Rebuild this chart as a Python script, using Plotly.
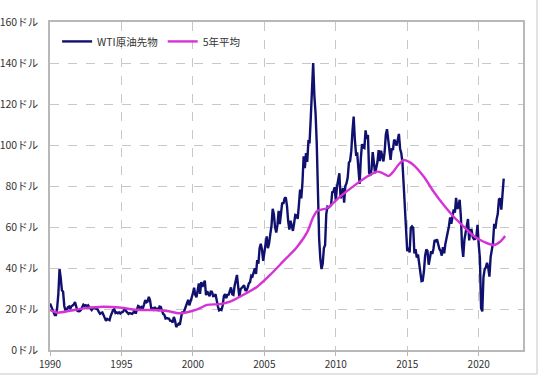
import numpy as np
import plotly.graph_objects as go

# WTI crude oil futures, monthly (Jan 1990 - Oct 2021), USD/bbl
start_year = 1990
wti = [
    # 1990
    22.7, 21.5, 20.3, 18.4, 17.1, 17.1, 20.6, 27.3, 39.5, 35.2, 29.1, 28.4,
    # 1991
    21.5, 19.2, 19.6, 20.8, 21.2, 20.0, 21.4, 21.7, 22.2, 23.4, 21.6, 19.1,
    # 1992
    18.9, 19.0, 19.6, 20.8, 22.1, 21.6, 21.9, 21.3, 21.8, 20.9, 20.1, 19.5,
    # 1993
    20.3, 20.5, 20.3, 20.2, 19.8, 18.6, 17.7, 18.1, 18.3, 17.0, 15.1, 14.2,
    # 1994
    15.2, 14.6, 14.5, 16.7, 18.2, 19.5, 19.9, 18.0, 18.3, 17.9, 18.4, 17.8,
    # 1995
    18.4, 18.5, 19.2, 20.4, 18.9, 17.9, 17.6, 18.0, 17.7, 17.6, 18.2, 19.6,
    # 1996
    17.7, 19.5, 21.5, 21.2, 19.8, 20.9, 20.4, 22.3, 24.4, 23.3, 23.7, 25.9,
    # 1997
    24.2, 20.3, 20.4, 19.8, 20.9, 19.8, 20.1, 19.6, 21.2, 21.0, 19.1, 17.6,
    # 1998
    17.2, 15.4, 15.6, 15.2, 15.2, 14.2, 14.2, 13.4, 16.1, 14.4, 11.2, 12.1,
    # 1999
    12.8, 12.3, 16.8, 18.7, 17.8, 19.3, 20.5, 22.1, 24.5, 21.8, 24.6, 25.6,
    # 2000
    27.6, 30.4, 26.9, 25.7, 29.0, 32.5, 27.4, 33.1, 30.8, 32.7, 33.8, 26.8,
    # 2001
    28.7, 27.4, 26.3, 28.5, 28.4, 26.3, 26.4, 27.2, 23.4, 21.2, 19.4, 19.8,
    # 2002
    19.5, 21.7, 26.3, 27.3, 25.3, 26.9, 27.0, 28.9, 30.5, 27.2, 26.9, 31.2,
    # 2003
    33.5, 36.6, 31.0, 25.8, 29.6, 30.2, 30.5, 31.6, 29.2, 29.1, 30.4, 32.5,
    # 2004
    33.1, 36.2, 35.8, 37.4, 39.9, 37.1, 43.8, 42.1, 49.6, 51.8, 49.1, 43.5,
    # 2005
    48.2, 51.8, 55.4, 49.7, 52.0, 56.5, 60.6, 68.9, 66.2, 59.8, 57.3, 61.0,
    # 2006
    67.9, 61.4, 66.6, 71.9, 71.3, 73.9, 74.4, 70.3, 62.9, 58.7, 63.1, 61.1,
    # 2007
    58.1, 61.8, 65.9, 65.7, 64.0, 70.7, 78.2, 74.0, 81.7, 94.5, 88.7, 96.0,
    # 2008
    91.8, 101.8, 101.6, 113.5, 127.4, 140.0, 124.1, 115.5, 100.6, 67.8, 54.4, 44.6,
    # 2009
    39.5, 42.0, 49.7, 51.1, 66.3, 69.9, 69.5, 70.0, 70.6, 77.0, 77.3, 79.4,
    # 2010
    72.9, 79.7, 83.8, 86.2, 74.0, 75.6, 79.0, 71.9, 80.0, 81.4, 84.1, 91.4,
    # 2011
    92.2, 97.0, 106.7, 113.9, 102.7, 95.4, 95.7, 88.8, 81.0, 93.2, 100.4, 98.8,
    # 2012
    98.5, 107.1, 103.0, 104.9, 86.5, 85.0, 88.1, 96.5, 92.2, 86.2, 88.9, 91.8,
    # 2013
    97.5, 92.1, 97.2, 93.5, 92.0, 96.6, 105.0, 107.7, 102.3, 96.4, 92.7, 98.4,
    # 2014
    97.5, 102.6, 101.6, 99.7, 102.7, 105.4, 98.2, 96.0, 91.2, 80.5, 66.2, 53.3,
    # 2015
    48.2, 49.8, 47.6, 59.6, 60.3, 59.5, 47.1, 49.2, 45.1, 46.6, 41.7, 37.0,
    # 2016
    33.6, 33.8, 38.3, 45.9, 49.1, 48.3, 41.6, 44.7, 48.2, 46.9, 49.4, 53.7,
    # 2017
    52.8, 54.0, 50.6, 49.3, 48.3, 46.0, 50.2, 47.2, 51.7, 54.4, 57.4, 60.4,
    # 2018
    64.7, 61.6, 64.9, 68.6, 67.0, 74.2, 68.8, 69.8, 73.3, 65.3, 50.9, 45.4,
    # 2019
    53.8, 57.2, 60.1, 63.9, 53.5, 58.5, 58.6, 55.1, 54.1, 54.2, 55.2, 61.1,
    # 2020
    51.6, 44.8, 20.5, 18.8, 35.5, 39.3, 40.3, 42.6, 40.2, 35.8, 45.3, 48.5,
    # 2021
    52.2, 61.5, 59.2, 63.6, 66.3, 73.5, 74.0, 68.5, 75.0, 83.6,
]
wti_x = start_year + np.arange(len(wti)) / 12.0

# 5-year average
avg_x = [1990.0, 1990.5, 1991.5, 1992.5, 1993.7, 1995.0, 1996.0, 1997.2, 1998.2,
         1999.1, 2000.3, 2001.0, 2001.9, 2002.6, 2003.5, 2004.5, 2005.4, 2006.3,
         2007.3, 2008.0, 2008.4, 2008.7, 2009.4, 2010.3, 2011.2, 2012.2, 2012.9,
         2013.3, 2013.7, 2014.0, 2014.4, 2014.75, 2015.1, 2015.45, 2016.15,
         2016.85, 2017.55, 2018.25, 2018.95, 2019.65, 2020.35, 2021.05, 2021.5,
         2021.85]
avg_y = [19.5, 18.2, 19.3, 20.4, 21.1, 20.6, 19.6, 19.5, 19.0,
         17.9, 19.8, 22.0, 22.4, 23.6, 26.8, 30.9, 36.6, 43.1,
         50.4, 57.5, 64.5, 67.8, 69.3, 74.8, 79.7, 84.6, 87.0,
         86.2, 84.9, 86.8, 90.5, 92.7, 91.9, 90.2, 84.6,
         77.2, 70.7, 65.0, 60.2, 55.6, 52.8, 51.2, 52.8,
         55.6]

x_ticks = [1990, 1995, 2000, 2005, 2010, 2015, 2020]
x_tick_labels = ["1990", "1995", "2000", "2005", "2010", "2015", "2020"]
y_ticks = [0, 20, 40, 60, 80, 100, 120, 140, 160]
y_tick_labels = [f"{v}ドル" for v in y_ticks]

font_family = "Noto Sans CJK JP, Noto Sans, sans-serif"

fig = go.Figure()
fig.add_trace(go.Scatter(
    x=wti_x, y=wti, mode="lines", name="WTI原油先物",
    line=dict(color="#10106e", width=2.4),
))
fig.add_trace(go.Scatter(
    x=avg_x, y=avg_y, mode="lines", name="5年平均",
    line=dict(color="#d633d6", width=2.4, shape="spline", smoothing=0.8),
))

fig.update_layout(
    width=540, height=377,
    margin=dict(l=50, r=17, t=22, b=27),
    paper_bgcolor="white", plot_bgcolor="white",
    font=dict(family=font_family, size=10, color="#333333"),
    showlegend=True,
    legend=dict(
        orientation="h", x=0.015, y=0.985, xanchor="left", yanchor="top",
        bgcolor="rgba(0,0,0,0)", font=dict(size=10.5, color="#333333"),
        itemwidth=30,
    ),
    xaxis=dict(
        range=[1990, 2023.1], tickvals=x_ticks, ticktext=x_tick_labels,
        showgrid=True, gridcolor="#c8c8c8", griddash="dash", gridwidth=1,
        showline=True, linecolor="#b8b8b8", linewidth=1.5, mirror=True,
        ticks="outside", ticklen=4, tickcolor="#b8b8b8",
        zeroline=False, automargin=False,
    ),
    yaxis=dict(
        range=[0, 160], tickvals=y_ticks, ticktext=y_tick_labels,
        showgrid=True, gridcolor="#c8c8c8", griddash="dash", gridwidth=1,
        showline=True, linecolor="#b8b8b8", linewidth=1.5, mirror=True,
        ticks="", zeroline=False, automargin=False, ticklabelstandoff=8,
        tickfont=dict(size=10.5),
    ),
)

# outer frame lines (bottom and right) of the original chart image
fig.add_shape(type="line", xref="paper", yref="paper", x0=-0.11, x1=1.0296,
              y0=-0.073, y1=-0.073, line=dict(color="#d8d8d8", width=1.5))
fig.add_shape(type="line", xref="paper", yref="paper", x0=1.0296, x1=1.0296,
              y0=-0.073, y1=1.07, line=dict(color="#d8d8d8", width=1.5))

# remove the browser's default page margin so the figure sits at (0, 0)
fig.write_html(
    "out.html",
    config={"displayModeBar": False},
    post_script="document.body.style.margin='0';document.body.style.padding='0';",
)
